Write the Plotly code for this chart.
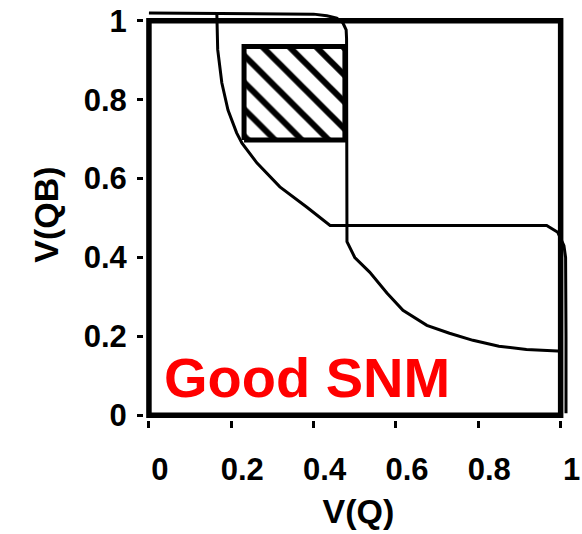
import plotly.graph_objects as go

# Butterfly curves (SRAM static noise margin)
vtc1_q = [0.0, 0.20, 0.40, 0.432, 0.456, 0.471, 0.479, 0.480, 0.480, 0.480, 0.481, 0.50, 0.536, 0.578, 0.617, 0.675, 0.73, 0.787, 0.85, 0.917, 1.005]
vtc1_qb = [1.02, 1.019, 1.017, 1.013, 1.007, 0.995, 0.977, 0.955, 0.70, 0.46, 0.44, 0.40, 0.363, 0.31, 0.266, 0.228, 0.208, 0.19, 0.175, 0.167, 0.162]

vtc2_q = [0.165, 0.166, 0.167, 0.177, 0.192, 0.213, 0.226, 0.262, 0.318, 0.383, 0.44, 0.966, 0.993, 1.008, 1.012, 1.013, 1.013]
vtc2_qb = [1.015, 0.95, 0.927, 0.843, 0.774, 0.716, 0.69, 0.64, 0.579, 0.528, 0.481, 0.481, 0.464, 0.43, 0.40, 0.20, 0.005]

# SNM square
snm_q = [0.231, 0.476, 0.476, 0.231, 0.231]
snm_qb = [0.698, 0.698, 0.935, 0.935, 0.698]

tick_vals = [0, 0.2, 0.4, 0.6, 0.8, 1]
tick_text = ["0", "0.2", "0.4", "0.6", "0.8", "1"]

FONT = "Liberation Sans, Arial, sans-serif"

fig = go.Figure()
fig.add_trace(go.Scatter(x=vtc1_q, y=vtc1_qb, mode="lines",
                         line=dict(color="black", width=3), showlegend=False))
fig.add_trace(go.Scatter(x=vtc2_q, y=vtc2_qb, mode="lines",
                         line=dict(color="black", width=3), showlegend=False))
fig.add_trace(go.Scatter(x=snm_q, y=snm_qb, mode="lines", fill="toself",
                         fillcolor="white",
                         fillpattern=dict(shape="\\", fgcolor="black", bgcolor="white",
                                          fgopacity=1, size=19, solidity=0.32),
                         line=dict(color="black", width=5), showlegend=False))

# plot frame
fig.add_shape(type="rect", xref="x", yref="y", x0=0, x1=1, y0=0, y1=1,
              line=dict(color="black", width=5.5), layer="above")

fig.add_annotation(x=0.385, y=0.095, xref="x", yref="y", text="Good SNM",
                   showarrow=False, font=dict(family=FONT, size=56, color="#FF0000", weight="bold"),
                   xanchor="center", yanchor="middle")

axis_common = dict(showgrid=False, zeroline=False, showline=False, automargin=False,
                   ticks="outside", tickwidth=3, tickcolor="black",
                   tickvals=tick_vals, ticktext=tick_text,
                   tickfont=dict(family=FONT, size=31, color="black", weight="bold"))

fig.update_xaxes(range=[-0.012, 1.03], ticklen=7, ticklabelshift=11, ticklabelstandoff=15,
                 title=dict(text="V(Q)", font=dict(family=FONT, size=34, color="black", weight="bold"),
                            standoff=12),
                 **axis_common)
fig.update_yaxes(range=[-0.012, 1.03], ticklen=6, ticklabelstandoff=4,
                 title=dict(text="V(QB)", font=dict(family=FONT, size=34, color="black", weight="bold"),
                            standoff=14),
                 **axis_common)

fig.update_layout(width=582, height=534, autosize=False,
                  margin=dict(l=144, r=9, t=9, b=114),
                  paper_bgcolor="white", plot_bgcolor="white",
                  font=dict(family=FONT))

fig.write_html("out.html", config={"displayModeBar": False},
               post_script="document.body.style.margin='0';")
